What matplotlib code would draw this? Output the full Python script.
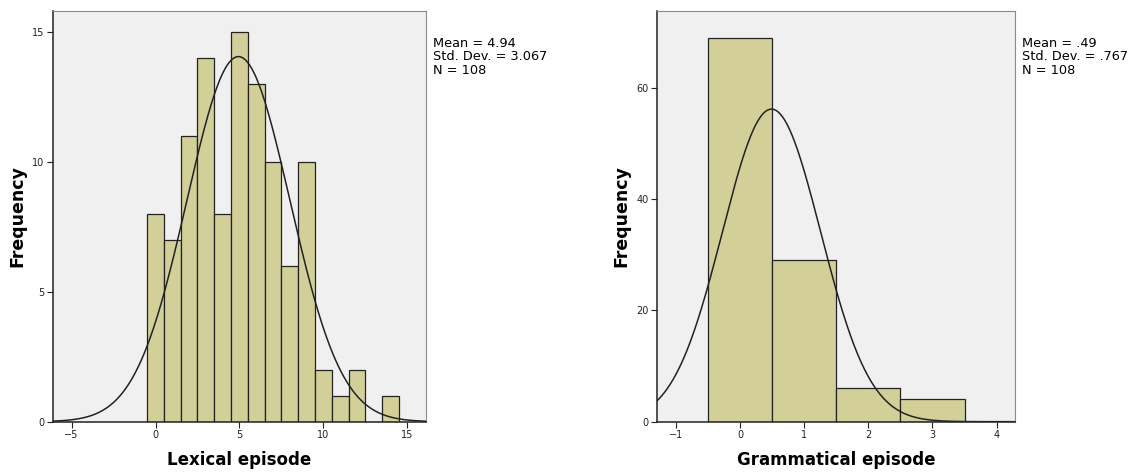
import numpy as np
import matplotlib
matplotlib.use("Agg")
import matplotlib.pyplot as plt

# Lexical episode: counts per integer value 0..14
lex_values = [0, 1, 2, 3, 4, 5, 6, 7, 8, 9, 10, 11, 12, 13, 14]
lex_counts = [8, 7, 11, 14, 8, 15, 13, 10, 6, 10, 2, 1, 2, 0, 1]
lex_mean, lex_sd, lex_n = 4.94, 3.067, 108

# Grammatical episode: counts per integer value 0..3
gram_values = [0, 1, 2, 3]
gram_counts = [69, 29, 6, 4]
gram_mean, gram_sd, gram_n = 0.49, 0.767, 108

lex_stats = "Mean = 4.94\nStd. Dev. = 3.067\nN = 108"
gram_stats = "Mean = .49\nStd. Dev. = .767\nN = 108"

bar_color = "#d3cf98"
bg_color = "#f0f0f0"


def draw_hist(ax, values, counts, mean, sd, n, xlim, ylim, xticks, yticks, xlabel):
    ax.set_facecolor(bg_color)
    ax.bar(values, counts, width=1.0, color=bar_color, edgecolor="#222222",
           linewidth=0.9, zorder=2)
    x = np.linspace(xlim[0], xlim[1], 400)
    y = n * np.exp(-0.5 * ((x - mean) / sd) ** 2) / (sd * np.sqrt(2 * np.pi))
    ax.plot(x, y, color="#222222", linewidth=1.1, zorder=3)
    ax.set_xlim(xlim)
    ax.set_ylim(ylim)
    ax.set_xticks(xticks)
    ax.set_yticks(yticks)
    ax.tick_params(axis="both", direction="out", length=4, width=0.8,
                   labelsize=7, colors="#222222", pad=2)
    for s in ["top", "right"]:
        ax.spines[s].set_color("#8a8a8a")
    for s in ["left", "bottom"]:
        ax.spines[s].set_color("#222222")
        ax.spines[s].set_linewidth(1.1)
    ax.set_xlabel(xlabel, fontsize=12, fontweight="bold", labelpad=8)
    ax.set_ylabel("Frequency", fontsize=12.5, fontweight="bold", labelpad=4)


fig = plt.figure(figsize=(11.37, 4.72), dpi=100)
ax1 = fig.add_axes([0.0466, 0.1066, 0.328, 0.870])
ax2 = fig.add_axes([0.5776, 0.1066, 0.315, 0.870])

draw_hist(ax1, lex_values, lex_counts, lex_mean, lex_sd, lex_n,
          (-6.11, 16.11), (0, 15.8), [-5, 0, 5, 10, 15], [0, 5, 10, 15],
          "Lexical episode")
draw_hist(ax2, gram_values, gram_counts, gram_mean, gram_sd, gram_n,
          (-1.3, 4.285), (0, 73.8), [-1, 0, 1, 2, 3, 4], [0, 20, 40, 60],
          "Grammatical episode")

fig.text(433 / 1137, 1 - 37 / 472, lex_stats, fontsize=9.3, va="top",
         ha="left", linespacing=1.05)
fig.text(1022 / 1137, 1 - 37 / 472, gram_stats, fontsize=9.3, va="top",
         ha="left", linespacing=1.05)

fig.savefig("out.png", dpi=100)
